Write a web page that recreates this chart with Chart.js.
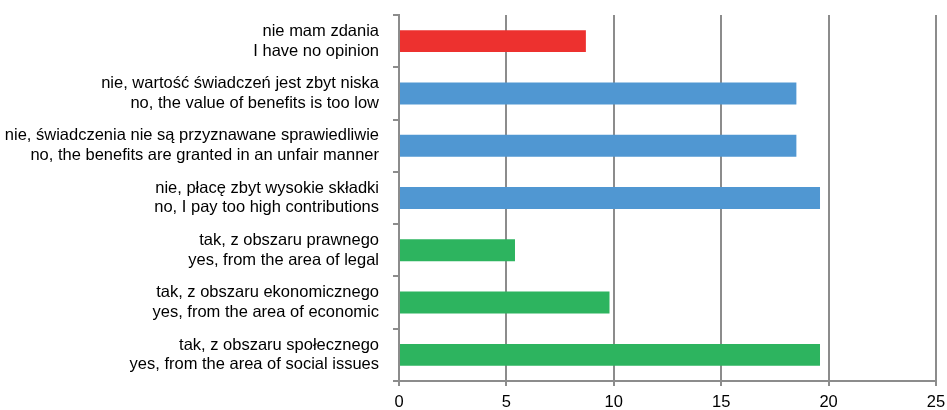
<!DOCTYPE html>
<html>
<head>
<meta charset="utf-8">
<script src="https://cdn.jsdelivr.net/npm/chart.js@4.4.1/dist/chart.umd.min.js"></script>
<style>
  html, body { margin: 0; padding: 0; background: #fff; }
  #wrap { width: 947px; height: 410px; }
</style>
</head>
<body>
<div id="wrap"><canvas id="chart" width="947" height="410"></canvas></div>
<script>
// categories, top to bottom (PL / EN)
const labelsPl = [
  "nie mam zdania",
  "nie, wartość świadczeń jest zbyt niska",
  "nie, świadczenia nie są przyznawane sprawiedliwie",
  "nie, płacę zbyt wysokie składki",
  "tak, z obszaru prawnego",
  "tak, z obszaru ekonomicznego",
  "tak, z obszaru społecznego"
];
const labelsEn = [
  "I have no opinion",
  "no, the value of benefits is too low",
  "no, the benefits are granted in an unfair manner",
  "no, I pay too high contributions",
  "yes, from the area of legal",
  "yes, from the area of economic",
  "yes, from the area of social issues"
];
const values = [8.7, 18.5, 18.5, 19.6, 5.4, 9.8, 19.6];
const groups = ["none", "no", "no", "no", "yes", "yes", "yes"];
const xTicks = [0, 5, 10, 15, 20, 25];

const groupColor = { none: "#ED312F", no: "#5097D2", yes: "#2DB45F" };
const gridColor = "#8c8c8c";
const font = { family: "'Liberation Sans', Arial, sans-serif", size: 16.5 };

const ctx = document.getElementById("chart").getContext("2d");
new Chart(ctx, {
  type: "bar",
  data: {
    labels: labelsPl.map((p, i) => [p, labelsEn[i]]),
    datasets: [{
      data: values,
      backgroundColor: groups.map(g => groupColor[g]),
      borderWidth: 0,
      barPercentage: 0.42,
      categoryPercentage: 1
    }]
  },
  options: {
    indexAxis: "y",
    responsive: false,
    animation: false,
    layout: { padding: { top: 15, right: 11, bottom: 0, left: 0 } },
    plugins: { legend: { display: false }, tooltip: { enabled: false } },
    scales: {
      x: {
        min: 0,
        max: 25,
        afterBuildTicks: s => { s.ticks = xTicks.map(v => ({ value: v })); },
        afterFit: s => { s.height = 29; s.paddingLeft = 0; s.paddingRight = 0; },
        border: { color: gridColor, width: 2 },
        grid: { color: gridColor, lineWidth: 2, tickLength: 5, drawTicks: true },
        ticks: { color: "#000", font, padding: 7 }
      },
      y: {
        afterFit: s => { s.width = 399; s.paddingTop = 0; s.paddingBottom = 0; },
        border: { color: gridColor, width: 2 },
        grid: { color: gridColor, lineWidth: 2, drawOnChartArea: false, tickLength: 6, offset: true },
        ticks: { color: "#000", font, padding: 14, lineHeight: 1.1 }
      }
    }
  }
});
</script>
</body>
</html>
